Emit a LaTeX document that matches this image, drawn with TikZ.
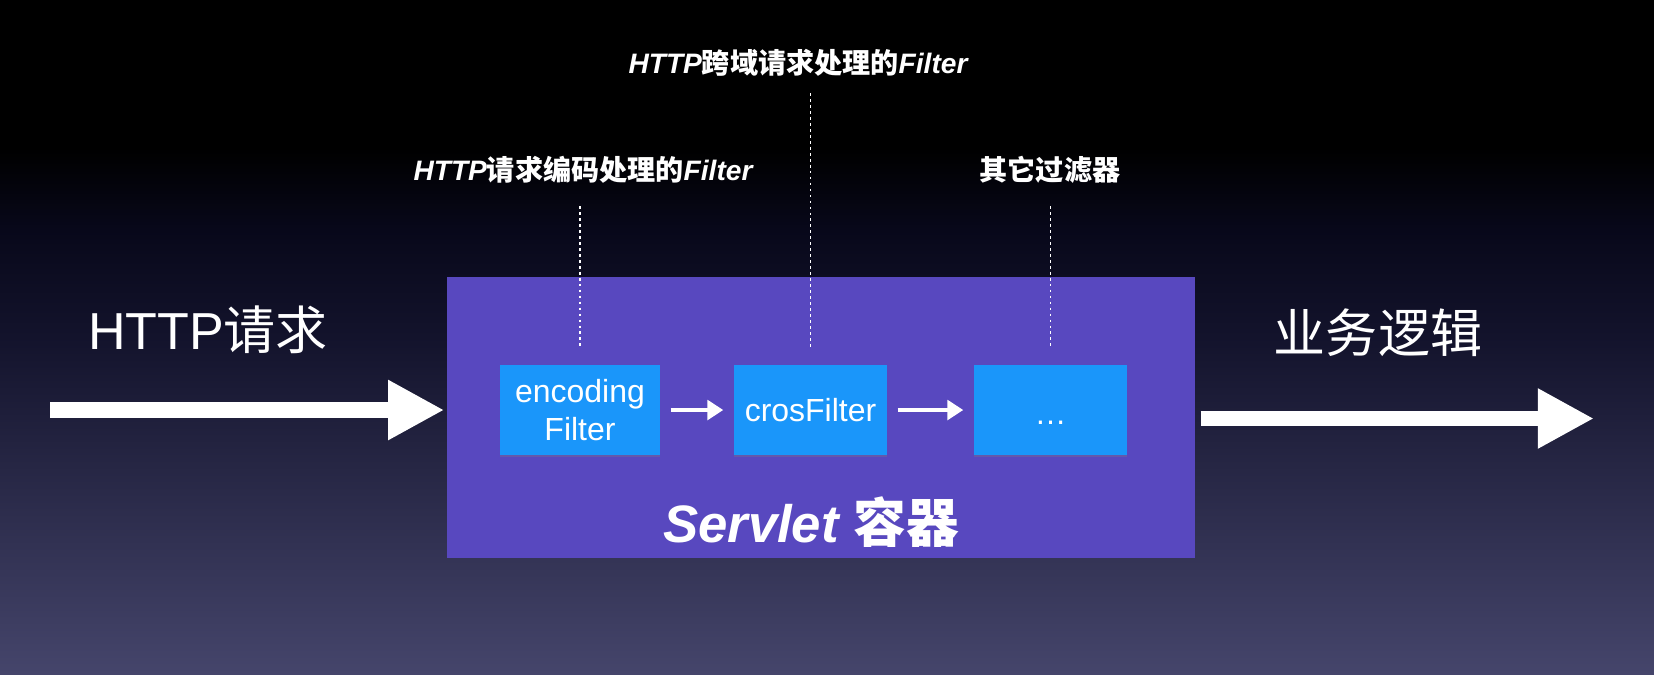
\documentclass[tikz,border=0pt]{standalone}
\usepackage{fontspec}
\setmainfont{Liberation Sans}
\newfontfamily\cjk{Noto Sans CJK SC}
\usetikzlibrary{arrows.meta,shadows}
\definecolor{bglow}{HTML}{08081A}
\definecolor{bgmid}{HTML}{13132C}
\definecolor{bgbot}{HTML}{45456B}
\definecolor{servletpurple}{HTML}{5848BF}
\definecolor{filterblue}{HTML}{1A96FA}
\newcommand{\zh}[1]{{\cjk\upshape #1}}
\pgfdeclareverticalshading{slidebg}{100bp}{color(0bp)=(bgbot); color(25bp)=(bgbot);
    color(50bp)=(bgmid); color(58bp)=(bglow); color(64bp)=(black); color(100bp)=(black)}

\begin{document}
\begin{tikzpicture}[
    filterbox/.style={fill=filterblue, minimum width=1.53cm, minimum height=0.9cm, inner sep=0pt,
        text=white, align=center, font=\fontsize{9.1}{10.8}\selectfont,
        drop shadow={opacity=.3, shadow xshift=0pt, shadow yshift=-.7pt}},
    bigarrow/.style={white, line width=4.3pt, -{Triangle[length=16pt,width=16pt]}},
    smallarrow/.style={white, line width=1.3pt, -{Triangle[length=4.5pt,width=5.5pt]}, shorten <=1mm, shorten >=1mm},
    guide/.style={white, dash pattern=on .8pt off .9pt, line width=.55pt, shorten >=1.5mm},
    bigtext/.style={text=white, font=\fontsize{14.8}{17}\selectfont},
    notetext/.style={text=white, font=\fontsize{8}{9.6}\selectfont\bfseries\itshape},
]
                \useasboundingbox (0,0) rectangle (16.54,6.74);
                \shade[shading=slidebg] (0,0) rectangle (16.54,6.74);

                \node[fill=servletpurple, minimum width=7.48cm, minimum height=2.81cm] (servlet) at (8.21,2.565) {};
                \node[text=white, font=\fontsize{15}{18}\selectfont\bfseries\itshape] (servletname) at (8.11,1.52) {Servlet \zh{容器}};

                \node[filterbox, minimum width=1.6cm] (enc) at (5.80,2.64) {encoding\\Filter};
                \node[filterbox] (cros) at (8.105,2.64) {crosFilter};
                \node[filterbox] (more) at (10.505,2.64) {\strut\raisebox{-2.1pt}{\dots}};

                \node[notetext] (encnote) at (5.83,5.04) {HTTP\zh{请求编码处理的}Filter};
                \node[notetext] (crosnote) at (7.98,6.11) {HTTP\zh{跨域请求处理的}Filter};
                \node[notetext] (morenote) at (10.50,5.04) {\zh{其它过滤器}};

                \node[bigtext] (request) at (2.08,3.44) {HTTP\zh{请求}};
                \node[bigtext] (business) at (13.78,3.41) {\zh{业务逻辑}};

                \coordinate (in) at (0.50,2.64);
                \coordinate (out) at (15.94,2.555);

                \draw[bigarrow, shorten >=.2mm] (in) -- (in -| servlet.west);
                \draw[bigarrow, shorten <=.5mm] (servlet.east |- out) -- (out);
                \draw[smallarrow] (enc) -- (cros);
                \draw[smallarrow] (cros) -- (more);

                \draw[guide, shorten <=3.6mm] (enc.north |- encnote.center) -- (enc.north);
                \draw[guide, shorten <=3mm] (cros.north |- crosnote.center) -- (cros.north);
                \draw[guide, shorten <=3.6mm] (more.north |- morenote.center) -- (more.north);
\end{tikzpicture}
\end{document}
